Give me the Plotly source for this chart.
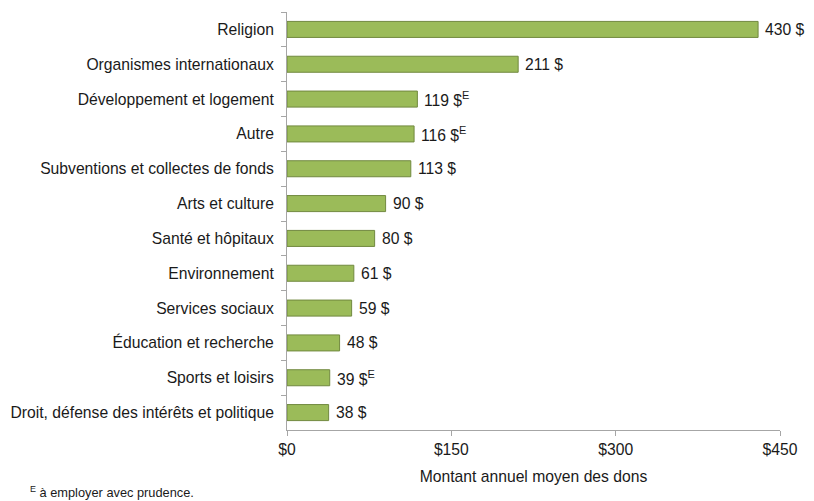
import plotly.graph_objects as go

# Average annual donation by cause (dollars)
categories = [
    "Religion",
    "Organismes internationaux",
    "Développement et logement",
    "Autre",
    "Subventions et collectes de fonds",
    "Arts et culture",
    "Santé et hôpitaux",
    "Environnement",
    "Services sociaux",
    "Éducation et recherche",
    "Sports et loisirs",
    "Droit, défense des intérêts et politique",
]
amounts = [430, 211, 119, 116, 113, 90, 80, 61, 59, 48, 39, 38]
# "E" marks estimates to be used with caution
use_with_caution = [False, False, True, True, False, False, False, False, False, False, True, False]

x_ticks = [0, 150, 300, 450]
x_tick_text = [f"${v}" for v in x_ticks]
x_title = "Montant annuel moyen des dons"
footnote = "<sup>E</sup> à employer avec prudence."

FONT = "Liberation Sans, Arial, sans-serif"
FS = 15.7
TEXT = "#1a1a1a"
AXIS = "#a6a6a6"

fig = go.Figure(
    go.Bar(
        x=amounts,
        y=categories,
        orientation="h",
        marker=dict(color="#9bbb59", line=dict(color="#71893f", width=1)),
        width=0.46,
        hoverinfo="skip",
    )
)

labels = [f"{v} $" + ("<sup>E</sup>" if e else "") for v, e in zip(amounts, use_with_caution)]
for cat, v, lab in zip(categories, amounts, labels):
    fig.add_annotation(
        x=v, y=cat, text=lab, showarrow=False,
        xanchor="left", xshift=5, yshift=0,
        font=dict(family=FONT, size=FS, color=TEXT),
    )

fig.add_annotation(
    xref="paper", yref="paper", x=-0.525, y=-0.148,
    text=footnote, showarrow=False, xanchor="left", yanchor="middle",
    font=dict(family=FONT, size=12.8, color=TEXT),
)

fig.update_layout(
    width=814, height=501,
    margin=dict(l=287, r=34, t=12, b=71),
    plot_bgcolor="white", paper_bgcolor="white",
    showlegend=False,
    font=dict(family=FONT, size=FS, color=TEXT),
    xaxis=dict(
        range=[0, 450], tickmode="array", tickvals=x_ticks, ticktext=x_tick_text,
        showgrid=False, zeroline=False,
        showline=True, linecolor=AXIS, linewidth=1,
        ticks="outside", ticklen=5, tickcolor=AXIS,
        tickfont=dict(family=FONT, size=FS, color=TEXT),
        title=dict(text=x_title, standoff=14, font=dict(family=FONT, size=FS, color=TEXT)),
    ),
    yaxis=dict(
        categoryorder="array", categoryarray=categories, autorange="reversed",
        showgrid=False, zeroline=False,
        showline=True, linecolor=AXIS, linewidth=1,
        ticks="outside", ticklen=5, tickcolor=AXIS, tickson="boundaries",
        ticklabelstandoff=9,
        tickfont=dict(family=FONT, size=FS, color=TEXT),
    ),
)

fig.write_html("out.html")
